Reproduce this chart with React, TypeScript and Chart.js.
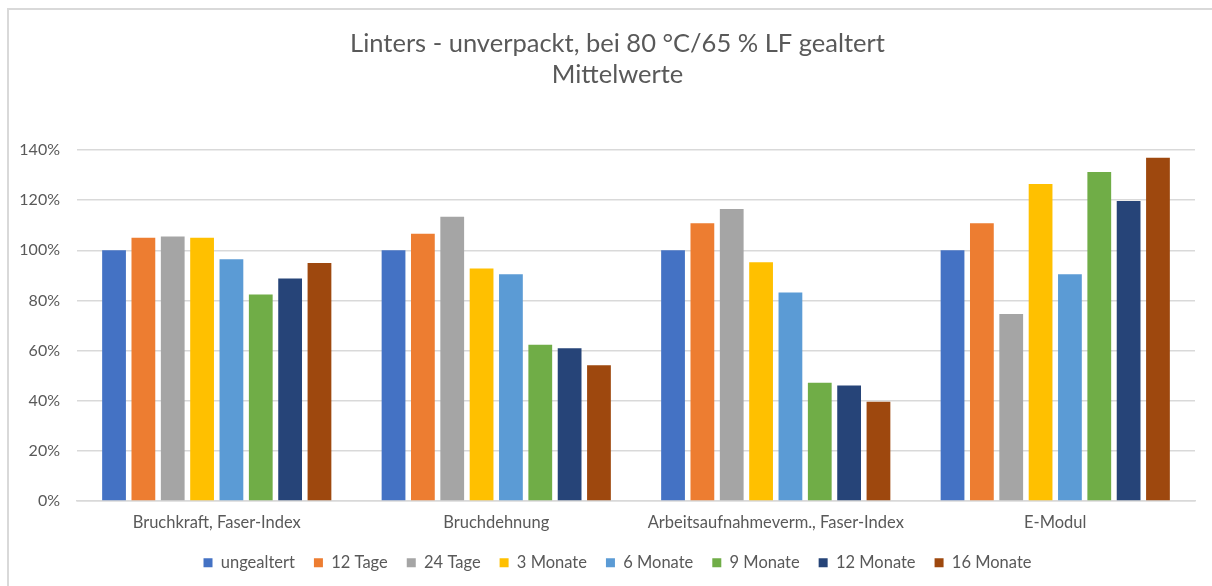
import React, { useEffect, useRef } from "react";
import { Chart, registerables } from "chart.js";

Chart.register(...registerables);

const categories = [
  "Bruchkraft, Faser-Index",
  "Bruchdehnung",
  "Arbeitsaufnahmeverm., Faser-Index",
  "E-Modul",
];

const seriesNames = [
  "ungealtert",
  "12 Tage",
  "24 Tage",
  "3 Monate",
  "6 Monate",
  "9 Monate",
  "12 Monate",
  "16 Monate",
];

const ungealtert = [100, 100, 100, 100];
const tage12 = [105, 106.6, 110.8, 110.8];
const tage24 = [105.5, 113.4, 116.5, 74.6];
const monate3 = [105, 92.7, 95.2, 126.4];
const monate6 = [96.4, 90.4, 83.2, 90.4];
const monate9 = [82.4, 62.3, 47.2, 131.2];
const monate12 = [88.8, 60.9, 46.1, 119.7];
const monate16 = [94.9, 54.1, 39.6, 136.9];

const seriesValues = [ungealtert, tage12, tage24, monate3, monate6, monate9, monate12, monate16];

const colors = ["#4472C4", "#ED7D31", "#A5A5A5", "#FFC000", "#5B9BD5", "#70AD47", "#264478", "#9E480E"];

const yMin = 0;
const yMax = 140;
const yStep = 20;

const titleLines = ["Linters - unverpackt, bei 80 °C/65 % LF gealtert", "Mittelwerte"];

const FONT = "Lato, 'Open Sans', sans-serif";

const widenYLabelArea = {
  id: "widenYLabelArea",
  afterLayout(chart: any) {
    const y = chart.scales.y;
    if (y) y.left = 0;
  },
};

export default function App() {
  const ref = useRef<HTMLCanvasElement | null>(null);
  useEffect(() => {
    if (!ref.current) return;
    const chart = new Chart(ref.current, {
      type: "bar",
      data: {
        labels: categories,
        datasets: seriesNames.map((name, i) => ({
          label: name,
          data: seriesValues[i],
          backgroundColor: colors[i],
          borderWidth: 0,
          categoryPercentage: 0.84,
          barPercentage: 0.81,
        })),
      },
      plugins: [widenYLabelArea],
      options: {
        animation: false,
        responsive: false,
        maintainAspectRatio: false,
        layout: { padding: { left: 40, right: 17, top: 28, bottom: 5 } },
        plugins: {
          title: {
            display: true,
            text: titleLines,
            color: "#595959",
            font: { family: FONT, size: 25.5, weight: "normal", lineHeight: 1.216 },
            padding: { top: 0, bottom: 60 },
          },
          legend: {
            position: "bottom",
            labels: {
              boxWidth: 9,
              boxHeight: 9,
              padding: 19,
              color: "#595959",
              font: { family: FONT, size: 16.5 },
            },
          },
          tooltip: { enabled: false },
        },
        scales: {
          x: {
            afterFit: (scale: any) => {
              scale.height = 34.5;
            },
            grid: { display: false, drawTicks: false },
            border: { display: true, color: "#d9d9d9", width: 1.5 },
            ticks: { color: "#595959", font: { family: FONT, size: 16.5 }, padding: 12 },
          },
          y: {
            min: yMin,
            max: yMax,
            afterFit: (scale: any) => {
              scale.width = 37;
            },
            grid: { color: "#d9d9d9", lineWidth: 1.5, drawTicks: false },
            border: { display: false },
            ticks: {
              stepSize: yStep,
              color: "#595959",
              font: { family: FONT, size: 16 },
              padding: 17,
              callback: (v: any) => v + "%",
            },
          },
        },
      },
    });
    return () => chart.destroy();
  }, []);
  return (
    <div>
      <div
        style={{
          position: "absolute",
          left: 7,
          top: 8,
          width: 1400,
          height: 800,
          borderLeft: "2px solid #d9d9d9",
          borderTop: "2px solid #d9d9d9",
        }}
      />
      <canvas
        ref={ref}
        width={1212}
        height={586}
        style={{ position: "absolute", left: 0, top: 0, width: 1212, height: 586 }}
      />
    </div>
  );
}
